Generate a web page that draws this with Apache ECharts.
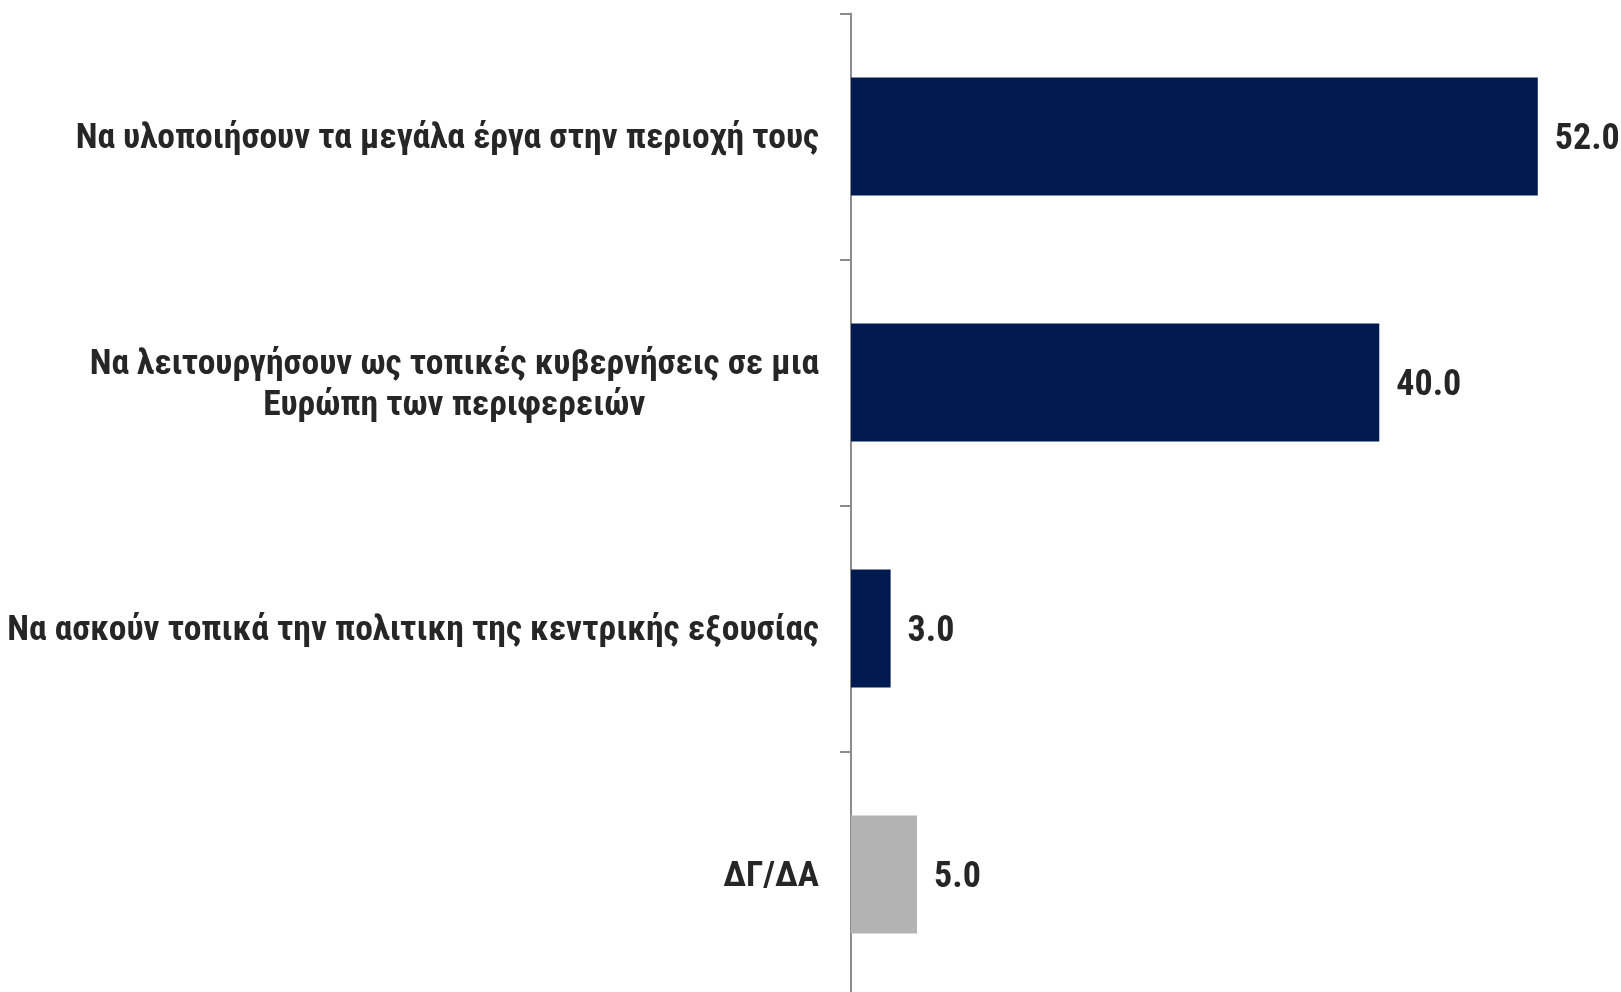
<!DOCTYPE html>
<html>
<head>
<meta charset="utf-8">
<script src="https://cdn.jsdelivr.net/npm/echarts@6/dist/echarts.min.js"></script>
<style>
html,body{margin:0;padding:0;background:#fff;}
#chart{width:1621px;height:992px;}
</style>
</head>
<body>
<div id="chart"></div>
<script>
const categories = [
  "Να υλοποιήσουν τα μεγάλα έργα στην περιοχή τους",
  "Να λειτουργήσουν ως τοπικές κυβερνήσεις σε μια\nΕυρώπη των περιφερειών",
  "Να ασκούν τοπικά την πολιτικη της κεντρικής εξουσίας",
  "ΔΓ/ΔΑ"
];
const values = [52.0, 40.0, 3.0, 5.0];
const barColors = ["#001A4F", "#001A4F", "#001A4F", "#B3B3B3"];

const FONT = "Roboto, 'Liberation Sans', sans-serif";
const STRETCH = 'condensed';

const chart = echarts.init(document.getElementById('chart'));
chart.setOption({
  animation: false,
  backgroundColor: '#ffffff',
  grid: { left: 851, right: 4, top: 13.5, bottom: -5.5, outerBoundsMode: 'none', containLabel: false },
  xAxis: {
    type: 'value', min: 0, max: 58, show: false,
    splitLine: { show: false }
  },
  yAxis: {
    type: 'category',
    data: categories,
    inverse: true,
    axisLine: { show: true, lineStyle: { color: '#8C8C8C', width: 2 } },
    axisTick: { show: true, length: 11, lineStyle: { color: '#8C8C8C', width: 2 } },
    axisLabel: {
      margin: 32,
      padding: [6, 0, 0, 0],
      color: '#262626',
      fontFamily: FONT,
      fontStyle: STRETCH,
      fontWeight: 'bold',
      fontSize: 35.5,
      lineHeight: 41,
      formatter: function (v) {
        return v.split('\n').map(function (l) { return '{c|' + l + '}'; }).join('\n');
      },
      rich: {
        c: {
          align: 'center',
          color: '#262626',
          fontFamily: FONT,
          fontStyle: STRETCH,
          fontWeight: 'bold',
          fontSize: 35.5,
          lineHeight: 41
        }
      }
    }
  },
  series: [{
    type: 'bar',
    barWidth: '48%',
    data: values.map(function (v, i) {
      return { value: v, itemStyle: { color: barColors[i] } };
    }),
    label: {
      show: true,
      position: 'right',
      distance: 17,
      offset: [0, 3],
      color: '#262626',
      fontFamily: FONT,
      fontStyle: STRETCH,
      fontWeight: 'bold',
      fontSize: 36,
      formatter: function (p) { return p.value.toFixed(1); }
    }
  }]
});
</script>
</body>
</html>
